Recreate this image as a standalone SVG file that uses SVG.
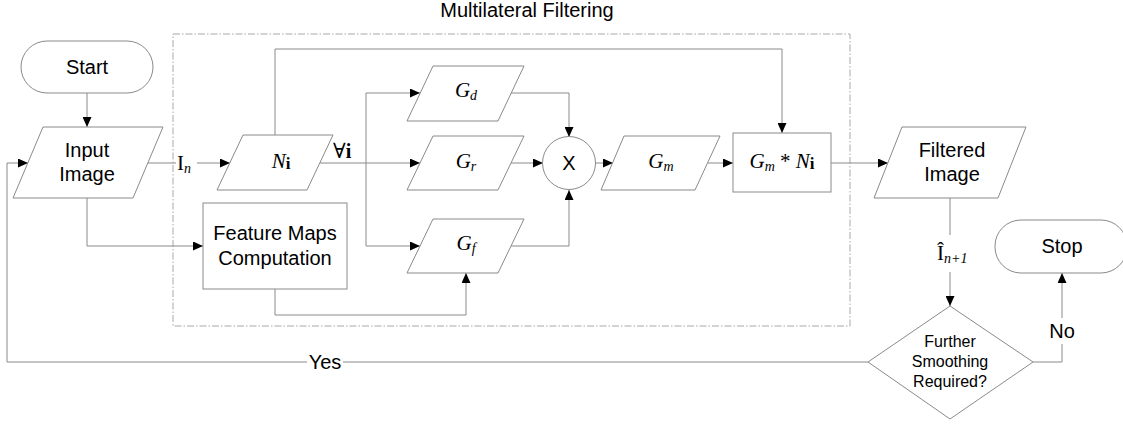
<svg xmlns="http://www.w3.org/2000/svg" width="1123" height="425" viewBox="0 0 1123 425">
<defs>
<marker id="ah" markerWidth="10" markerHeight="9" refX="10" refY="4.5" orient="auto" markerUnits="userSpaceOnUse">
<path d="M0,0 L10,4.5 L0,9 z" fill="#000"/>
</marker>
<style>
.shape{fill:#fff;stroke:#8a8a8a;stroke-width:1}
.con{fill:none;stroke:#8a8a8a;stroke-width:1}
.arr{marker-end:url(#ah)}
.t{font-family:"Liberation Sans",Arial,sans-serif;font-size:20px;fill:#000;text-anchor:middle}
.ts{font-family:"Liberation Sans",Arial,sans-serif;font-size:16px;fill:#000;text-anchor:middle}
.m{font-family:"Liberation Serif","DejaVu Serif",serif;font-size:21px;fill:#000}
.it{font-style:italic}
.sub{font-size:14px;font-style:italic}
.bi{font-weight:bold;font-style:normal}
</style>
</defs>
<rect width="1123" height="425" fill="#fff"/>

<g id="group-multilateral">
<rect x="173" y="34" width="677" height="292" fill="none" stroke="#a8a8a8" stroke-width="1" stroke-dasharray="7 2 1.5 2"/>
<text class="t" x="527" y="17">Multilateral Filtering</text>
</g>

<g id="connectors">
<path class="con arr" d="M87,93 V127"/>
<path class="con" d="M148,163 H176"/>
<path class="con arr" d="M197,163 H230"/>
<path class="con arr" d="M275,135 V49 H782 V133"/>
<path class="con" d="M320,163 H366 M366,93 V246"/>
<path class="con arr" d="M366,93 H420"/>
<path class="con arr" d="M366,163 H420"/>
<path class="con arr" d="M366,246 H420"/>
<path class="con arr" d="M511,93 H569 V137"/>
<path class="con arr" d="M511,163 H543"/>
<path class="con arr" d="M511,246 H569 V190"/>
<path class="con arr" d="M595,163 H613"/>
<path class="con arr" d="M708,163 H733"/>
<path class="con arr" d="M831,163 H888"/>
<path class="con" d="M950,198 V235"/>
<path class="con arr" d="M950,272 V306"/>
<path class="con" d="M1033,362 H1062 V344"/>
<path class="con arr" d="M1062,318 V273"/>
<path class="con" d="M868,362 H343"/>
<path class="con arr" d="M307,362 H7 V163 H28"/>
<path class="con arr" d="M87,198 V246 H203"/>
<path class="con arr" d="M275,289 V315 H466 V273"/>
<text class="m" x="177" y="170" font-size="24">I<tspan class="sub" font-size="16" dy="3">n</tspan></text>
<text class="m" x="333" y="158" font-size="19">∀<tspan class="bi" font-size="20">i</tspan></text>
<text class="m" x="937" y="260" font-size="24">Î<tspan class="sub" font-size="16" dy="3">n+1</tspan></text>
<text class="t" x="1062" y="338">No</text>
<text class="t" x="325" y="369">Yes</text>
</g>

<g id="start">
<rect class="shape" x="21" y="41" width="132" height="52" rx="26"/>
<text class="t" x="87" y="74">Start</text>
</g>

<g id="input-image">
<polygon class="shape" points="43,127 163,127 133,198 13,198"/>
<text class="t" x="87" y="157">Input</text>
<text class="t" x="87" y="181">Image</text>
</g>

<g id="n-i">
<polygon class="shape" points="243,135 333,135 307,190 217,190"/>
<text class="m" x="281" y="168" text-anchor="middle"><tspan class="it">N</tspan><tspan class="bi" font-size="17" dy="1">i</tspan></text>
</g>

<g id="g-d">
<polygon class="shape" points="433,66 524,66 498,121 407,121"/>
<text class="m" x="466" y="97" text-anchor="middle"><tspan class="it">G</tspan><tspan class="sub" dy="3">d</tspan></text>
</g>

<g id="g-r">
<polygon class="shape" points="433,136 524,136 498,190 407,190"/>
<text class="m" x="466" y="168" text-anchor="middle"><tspan class="it">G</tspan><tspan class="sub" dy="3">r</tspan></text>
</g>

<g id="g-f">
<polygon class="shape" points="433,219 524,219 498,273 407,273"/>
<text class="m" x="466" y="250" text-anchor="middle"><tspan class="it">G</tspan><tspan class="sub" dy="3">f</tspan></text>
</g>

<g id="multiply">
<circle class="shape" cx="569" cy="163" r="26.5"/>
<text class="t" x="569" y="170">X</text>
</g>

<g id="g-m">
<polygon class="shape" points="624,136 720,136 695,190 601,190"/>
<text class="m" x="661" y="168" text-anchor="middle"><tspan class="it">G</tspan><tspan class="sub" dy="3">m</tspan></text>
</g>

<g id="gm-ni">
<rect class="shape" x="733" y="133" width="98" height="59"/>
<text class="m" x="782" y="168" text-anchor="middle"><tspan class="it">G</tspan><tspan class="sub" dy="3">m</tspan><tspan dy="-3"> * </tspan><tspan class="it">N</tspan><tspan class="bi" font-size="17" dy="1">i</tspan></text>
</g>

<g id="feature-maps">
<rect class="shape" x="203" y="203" width="144" height="86"/>
<text class="t" x="275" y="240">Feature Maps</text>
<text class="t" x="275" y="265">Computation</text>
</g>

<g id="filtered-image">
<polygon class="shape" points="902,127 1026,127 998,198 874,198"/>
<text class="t" x="952" y="157">Filtered</text>
<text class="t" x="952" y="181">Image</text>
</g>

<g id="decision">
<polygon class="shape" points="950,306 1033,362 950,419 868,362"/>
<text class="ts" x="950" y="347">Further</text>
<text class="ts" x="950" y="367">Smoothing</text>
<text class="ts" x="950" y="387">Required?</text>
</g>

<g id="stop">
<rect class="shape" x="995" y="220" width="132" height="53" rx="26"/>
<text class="t" x="1062" y="253">Stop</text>
</g>
</svg>
